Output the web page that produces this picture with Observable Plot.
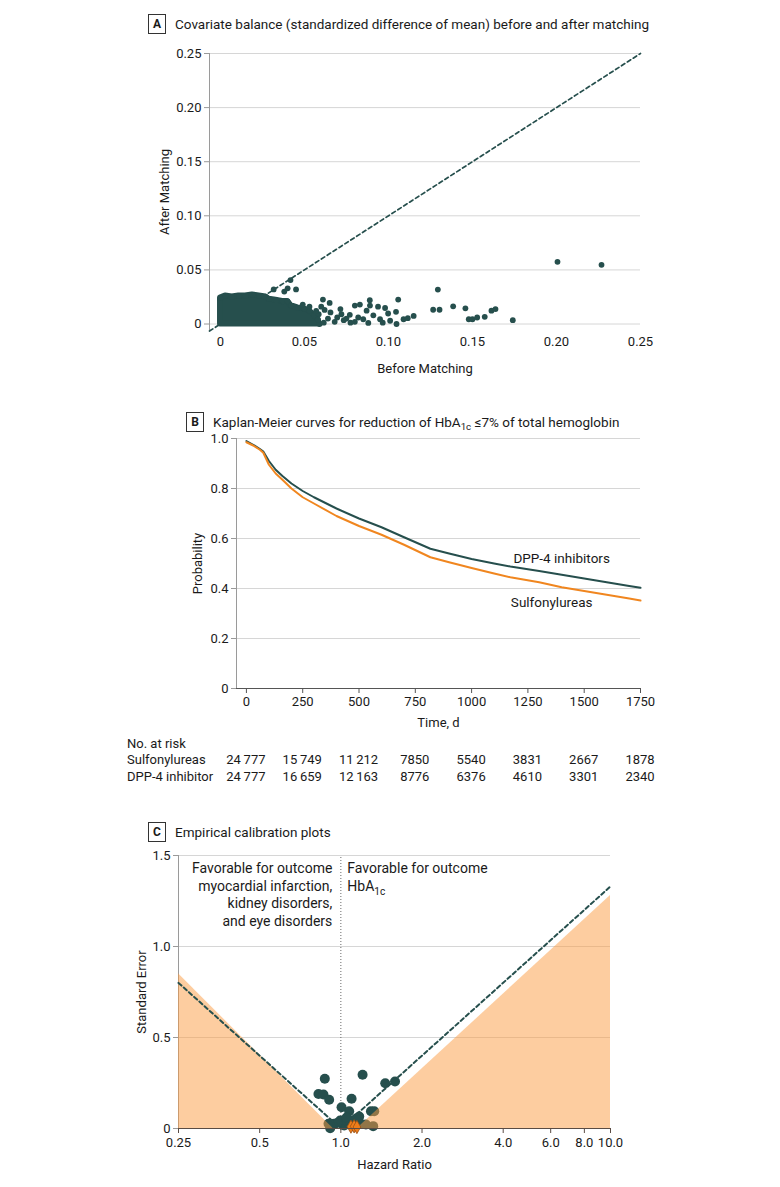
<!DOCTYPE html>
<html>
<head>
<meta charset="utf-8">
<script src="https://cdn.jsdelivr.net/npm/d3@7"></script>
<script src="https://cdn.jsdelivr.net/npm/@observablehq/plot@0.6"></script>
<style>
  html, body { margin: 0; padding: 0; background: #fff; }
  #root { position: relative; width: 780px; height: 1187px; overflow: hidden; font-family: Roboto, "Liberation Sans", sans-serif; color: #1a1a1a; }
  .title { position: absolute; font-size: 13.5px; white-space: nowrap; line-height: 20px; }
  .badge { display: inline-block; box-sizing: border-box; width: 18px; height: 20px; border: 1px solid #333; font-weight: 700; font-size: 12px; line-height: 18px; text-align: center; margin-right: 9px; vertical-align: top; }
  .txt { position: absolute; font-size: 13px; white-space: nowrap; line-height: 16px; }
  sub { font-size: 0.72em; line-height: 0; vertical-align: -0.35em; }
</style>
</head>
<body>
<div id="root"></div>
<script>
// ---------------- DATA ----------------
// Panel A: covariate balance
const balanceTicks = [0, 0.05, 0.10, 0.15, 0.20, 0.25];
// dense cloud of covariates: upper outline of the packed region (before, after)
const blobBefore = [0, 0.003, 0.007, 0.011, 0.015, 0.019, 0.023, 0.027, 0.029, 0.033, 0.037, 0.040, 0.042, 0.046, 0.050, 0.053, 0.056, 0.058, 0.059];
const blobAfter  = [0.024, 0.026, 0.025, 0.026, 0.026, 0.027, 0.026, 0.025, 0.023, 0.022, 0.021, 0.021, 0.017, 0.015, 0.014, 0.012, 0.008, 0.004, 0];
// individually visible covariates
const balanceBefore = [0.0317, 0.0417, 0.040, 0.045, 0.038, 0.061, 0.065, 0.0714, 0.080, 0.083, 0.0889, 0.089, 0.0938, 0.098, 0.1058, 0.1045, 0.0998, 0.101, 0.1048, 0.109, 0.1115, 0.115, 0.1294, 0.1266, 0.1304, 0.1385, 0.1458, 0.1478, 0.150, 0.1528, 0.1573, 0.1613, 0.1637, 0.174, 0.2006, 0.2268,
  0.0585, 0.0615, 0.0655, 0.0695, 0.0734, 0.077, 0.0774, 0.082, 0.085, 0.087, 0.095, 0.0966, 0.062, 0.068, 0.072, 0.058, 0.064, 0.091, 0.075, 0.080, 0.088, 0.057, 0.060, 0.053, 0.049];
const balanceAfter  = [0.032, 0.0406, 0.033, 0.032, 0.030, 0.0226, 0.0195, 0.0138, 0.017, 0.018, 0.022, 0.017, 0.016, 0.0148, 0.0226, 0.0113, 0.0097, 0.003, 0.0, 0.0044, 0.0054, 0.0075, 0.0318, 0.0132, 0.0132, 0.0163, 0.0145, 0.0044, 0.0044, 0.006, 0.0066, 0.0123, 0.0138, 0.0035, 0.0575, 0.0547,
  0.009, 0.0012, 0.0107, 0.006, 0.0035, 0.0085, 0.0012, 0.006, 0.0044, 0.0123, 0.0044, 0.0012, 0.013, 0.002, 0.009, 0.004, 0.005, 0.008, 0.005, 0.002, 0.001, 0.012, 0.016, 0.016, 0.018];

// Panel B: Kaplan-Meier
const kmTime = [0, 30, 60, 75, 100, 130, 160, 200, 250, 300, 400, 500, 600, 700, 817, 900, 1000, 1100, 1172, 1300, 1400, 1500, 1600, 1700, 1750];
const kmDpp  = [0.99, 0.975, 0.958, 0.948, 0.91, 0.875, 0.85, 0.82, 0.79, 0.765, 0.72, 0.68, 0.645, 0.605, 0.559, 0.54, 0.518, 0.50, 0.488, 0.47, 0.455, 0.44, 0.425, 0.41, 0.403];
const kmSulf = [0.985, 0.972, 0.955, 0.943, 0.895, 0.86, 0.835, 0.80, 0.765, 0.74, 0.69, 0.65, 0.615, 0.575, 0.525, 0.505, 0.482, 0.46, 0.445, 0.425, 0.405, 0.39, 0.375, 0.36, 0.352];
const kmGroups = ["DPP-4 inhibitors", "Sulfonylureas"];
const kmTimeTicks = [0, 250, 500, 750, 1000, 1250, 1500, 1750];
const kmProbTicks = [0, 0.2, 0.4, 0.6, 0.8, 1.0];
const riskGroups = ["Sulfonylureas", "DPP-4 inhibitor"];
const riskSulf = [24777, 15749, 11212, 7850, 5540, 3831, 2667, 1878];
const riskDpp  = [24777, 16659, 12163, 8776, 6376, 4610, 3301, 2340];

// Panel C: empirical calibration
const calHR = [0.872, 1.204, 1.461, 1.588, 0.826, 0.862, 0.905, 1.096, 1.006, 1.074, 1.17, 1.293, 1.33, 0.994, 1.044, 1.089, 1.137, 1.187, 1.239, 0.944, 1.029, 1.12, 0.90, 0.913, 1.318, 1.05, 1.14, 0.97];
const calSE = [0.273, 0.295, 0.249, 0.258, 0.19, 0.187, 0.158, 0.163, 0.117, 0.095, 0.066, 0.095, 0.095, 0.044, 0.035, 0.044, 0.035, 0.026, 0.022, 0.026, 0.016, 0.011, 0.026, 0.002, 0.013, 0.06, 0.055, 0.03];
const outcomeHR = [1.09, 1.12, 1.147];
const outcomeSE = [0.010, 0.012, 0.008];
const calibLeftHR = [0.25, 0.936], calibLeftSE = [0.85, 0];
const calibRightHR = [1.15, 10], calibRightSE = [0, 1.28];
const nominalLeftHR = [0.25, 1], nominalLeftSE = [0.80, 0];
const nominalRightHR = [1, 10], nominalRightSE = [0, 1.33];
const hrTicks = [0.25, 0.5, 1, 2, 4, 6, 8, 10];
const seTicks = [0, 0.5, 1.0, 1.5];

// ---------------- BUILD ----------------
const teal = "#264f4d", orange = "#f0861f";
const FONT = "Roboto, 'Liberation Sans', sans-serif";
const root = document.getElementById("root");
function put(el, left, top) { el.style.position = "absolute"; el.style.left = left + "px"; el.style.top = top + "px"; root.appendChild(el); return el; }
function html(s, cls, left, top, extra) { const d = document.createElement("div"); d.className = cls; d.innerHTML = s; if (extra) Object.assign(d.style, extra); return put(d, left, top); }
const baseStyle = {fontFamily: FONT, fontSize: "13px", color: "#1a1a1a", background: "transparent", overflow: "visible"};
const zip2 = (a, b, ka, kb) => a.map((v, i) => ({[ka]: v, [kb]: b[i]}));

// Panel A
const blob = zip2(blobBefore, blobAfter, "before", "after");
const balance = zip2(balanceBefore, balanceAfter, "before", "after");
const aX = [-0.0065, 0.25], aY = [-0.006, 0.25];
const fmt2 = d => d === 0 ? "0" : d.toFixed(2);
const plotA = Plot.plot({
  width: 780, height: 350, marginLeft: 209, marginRight: 140, marginTop: 13, marginBottom: 60,
  style: baseStyle,
  x: {domain: aX}, y: {domain: aY},
  marks: [
    Plot.gridY(balanceTicks, {stroke: "#d6d6d6", strokeOpacity: 1}),
    Plot.ruleX([aX[0]], {y1: aY[0], y2: aY[1], stroke: "#9a9a9a"}),
    Plot.line(aX, {x: d => d, y: d => d, stroke: teal, strokeWidth: 1.7, strokeDasharray: "4,3"}),
    Plot.areaY(blob, {x: "before", y: "after", fill: teal, stroke: teal, strokeWidth: 5.8, strokeLinejoin: "round"}),
    Plot.dot(blob, {x: "before", y: "after", r: 2.9, fill: teal}),
    Plot.dot(balance, {x: "before", y: "after", r: 2.9, fill: teal}),
    Plot.axisY(balanceTicks, {tickSize: 5, tickPadding: 3, stroke: "#9a9a9a", tickFormat: fmt2, label: "After Matching", labelAnchor: "center", labelArrow: "none", labelOffset: 50}),
    Plot.axisX(balanceTicks, {tickSize: 0, tickPadding: 6, tickFormat: fmt2, label: "Before Matching", labelAnchor: "center", labelArrow: "none", labelOffset: 42})
  ]
});
put(plotA, 0, 40);
html('<span class="badge">A</span><span>Covariate balance (standardized difference of mean) before and after matching</span>', "title", 148, 14);

// Panel B
const km = kmTime.flatMap((t, i) => [{t, p: kmDpp[i], group: kmGroups[0]}, {t, p: kmSulf[i], group: kmGroups[1]}]);
const kmLabels = [
  {t: 1400, p: kmDpp[kmTime.indexOf(1400)], text: kmGroups[0]},
  {t: 1400, p: kmSulf[kmTime.indexOf(1400)], text: kmGroups[1]}
];
const bX = [-44, 1750], bY = [0, 1];
const fmt1 = d => d === 0 ? "0" : d.toFixed(1);
const plotB = Plot.plot({
  width: 780, height: 300, marginLeft: 236, marginRight: 140, marginTop: 10, marginBottom: 40,
  style: baseStyle,
  x: {domain: bX}, y: {domain: bY},
  color: {domain: kmGroups, range: [teal, orange]},
  marks: [
    Plot.gridY(kmProbTicks.filter(d => d > 0), {stroke: "#d6d6d6", strokeOpacity: 1}),
    Plot.ruleX([bX[0]], {y1: bY[0], y2: bY[1], stroke: "#9a9a9a"}),
    Plot.ruleY([0], {stroke: "#555"}),
    Plot.line(km, {x: "t", y: "p", stroke: "group", strokeWidth: 2}),
    Plot.text(kmLabels.slice(0, 1), {x: "t", y: "p", text: "text", dy: -16, fontSize: 13.5, fill: "#1a1a1a"}),
    Plot.text(kmLabels.slice(1), {x: "t", y: "p", text: "text", dy: 15, dx: -10, fontSize: 13.5, fill: "#1a1a1a"}),
    Plot.axisY(kmProbTicks, {tickSize: 5, tickPadding: 3, stroke: "#9a9a9a", tickFormat: fmt1, label: "Probability", labelAnchor: "center", labelArrow: "none", labelOffset: 44}),
    Plot.axisX(kmTimeTicks, {tickSize: 5, tickPadding: 3, stroke: "#555", tickFormat: d => String(d), label: "Time, d", labelAnchor: "center", labelArrow: "none", labelOffset: 38})
  ]
});
put(plotB, 0, 428);
html('<span class="badge">B</span><span>Kaplan-Meier curves for reduction of HbA<sub>1c</sub> ≤7% of total hemoglobin</span>', "title", 186, 412);

// number at risk table, placed with the KM x scale
const xB = plotB.scale("x");
const fmtN = n => n >= 10000 ? String(n).slice(0, -3) + "\u2009" + String(n).slice(-3) : String(n);
html("No. at risk", "txt", 127, 736);
[riskSulf, riskDpp].forEach((row, r) => {
  html(riskGroups[r], "txt", 127, 752 + r * 17);
  row.forEach((n, i) => html(fmtN(n), "txt", xB.apply(kmTimeTicks[i]), 752 + r * 17, {transform: "translateX(-50%)"}));
});

// Panel C
const cal = zip2(calHR, calSE, "hr", "se");
const outcomes = zip2(outcomeHR, outcomeSE, "hr", "se");
const cX = [0.25, 10], cY = [0, 1.5];
const fmtHR = d => d < 1 ? String(d) : d.toFixed(1);
const plotC = Plot.plot({
  width: 780, height: 340, marginLeft: 178, marginRight: 170, marginTop: 10, marginBottom: 57,
  style: baseStyle,
  x: {type: "log", domain: cX}, y: {domain: cY},
  marks: [
    Plot.gridY(seTicks.filter(d => d > 0), {stroke: "#d6d6d6", strokeOpacity: 1}),
    Plot.ruleX([cX[0]], {y1: cY[0], y2: cY[1], stroke: "#9a9a9a"}),
    Plot.ruleX([1], {y1: cY[0], y2: cY[1], stroke: "#6a6a6a", strokeDasharray: "1,2"}),
    Plot.dot(cal, {x: "hr", y: "se", r: 5, fill: teal}),
    Plot.areaY(zip2(calibLeftHR, calibLeftSE, "hr", "se"), {x: "hr", y: "se", fill: "#fb9b41", fillOpacity: 0.5}),
    Plot.areaY(zip2(calibRightHR, calibRightSE, "hr", "se"), {x: "hr", y: "se", fill: "#fb9b41", fillOpacity: 0.5}),
    Plot.line(zip2(nominalLeftHR, nominalLeftSE, "hr", "se"), {x: "hr", y: "se", stroke: teal, strokeWidth: 2, strokeDasharray: "4,3"}),
    Plot.line(zip2(nominalRightHR, nominalRightSE, "hr", "se"), {x: "hr", y: "se", stroke: teal, strokeWidth: 2, strokeDasharray: "4,3"}),
    Plot.dot(outcomes, {x: "hr", y: "se", symbol: "diamond", r: 4, fill: "#ee7d1a", stroke: "#9c4f12", strokeWidth: 0.8}),
    Plot.ruleY([0], {stroke: "#5a4c44"}),
    Plot.axisY(seTicks, {tickSize: 5, tickPadding: 3, stroke: "#9a9a9a", tickFormat: fmt1, label: "Standard Error", labelAnchor: "center", labelArrow: "none", labelOffset: 42}),
    Plot.axisX(hrTicks, {tickSize: 5, stroke: "#5a4c44", tickFormat: () => "", label: "Hazard Ratio", labelAnchor: "center", labelArrow: "none", labelOffset: 40}),
    Plot.text(hrTicks, {x: d => d, frameAnchor: "bottom", text: fmtHR, lineAnchor: "top", dy: 9, fill: "#1a1a1a"})
  ]
});
put(plotC, 0, 845);
html('<span class="badge">C</span><span>Empirical calibration plots</span>', "title", 148, 822);
const xC = plotC.scale("x"), yC = plotC.scale("y");
const annTop = 845 + yC.apply(1.5) + 5;
html("Favorable for outcome<br>myocardial infarction,<br>kidney disorders,<br>and eye disorders", "txt", xC.apply(1) - 8, annTop, {transform: "translateX(-100%)", textAlign: "right", fontSize: "14px", lineHeight: "17.5px"});
html("Favorable for outcome<br>HbA<sub>1c</sub>", "txt", xC.apply(1) + 7, annTop, {fontSize: "14px", lineHeight: "17.5px"});
</script>
</body>
</html>
